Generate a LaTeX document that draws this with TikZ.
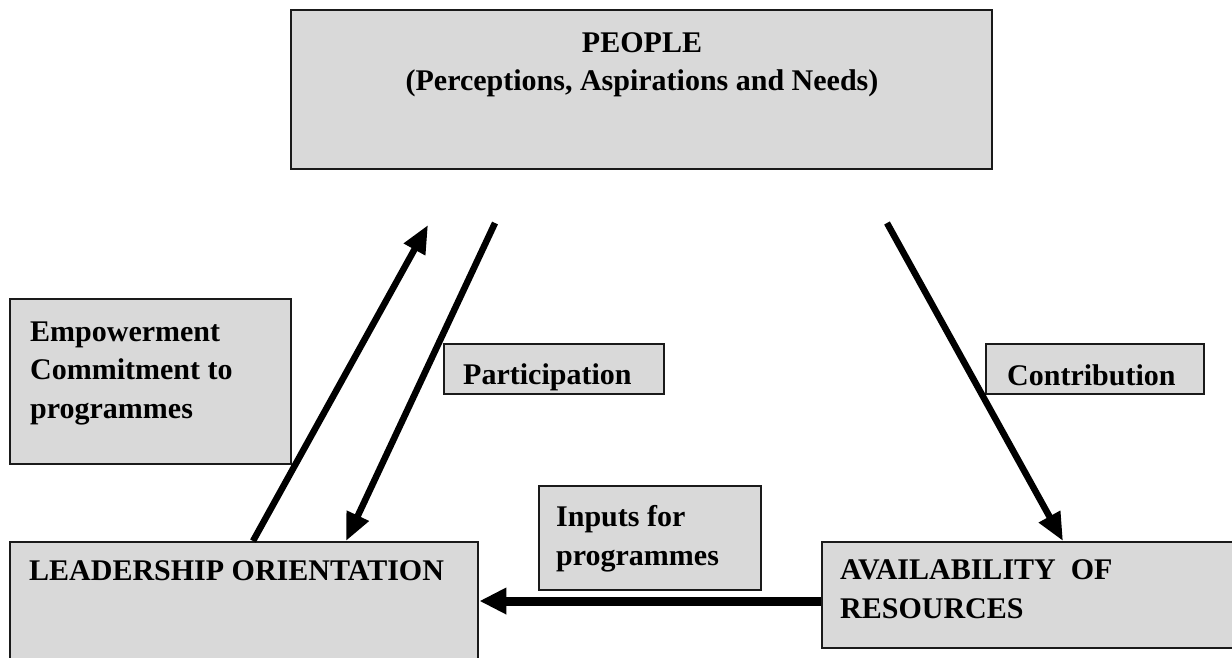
\documentclass[tikz,border=0pt]{standalone}
\usepackage{fontspec}
\setmainfont{Liberation Serif}
\usetikzlibrary{arrows.meta,calc}
\definecolor{boxgray}{HTML}{D9D9D9}
\definecolor{edge}{HTML}{1A1A1A}
\begin{document}
\begin{tikzpicture}[x=1pt,y=-1pt,
  box/.style={draw=edge,line width=2.4pt,fill=boxgray,inner sep=0pt,anchor=north west},
  lbl/.style={font=\fontsize{30}{38.5}\selectfont\bfseries,inner sep=0pt,anchor=base west,align=left},
  link/.style={line width=6.5pt,-{Triangle[length=28pt,width=23pt]}},
  hlink/.style={line width=9pt,-{Triangle[length=27pt,width=25pt]}}]
\useasboundingbox[fill=white] (0,0) rectangle (1232,657);
% boxes
\node[box,minimum width=701pt,minimum height=159pt] (people) at (290,9) {};
\node[box,minimum width=281pt,minimum height=165pt] (empower) at (9,298) {};
\node[box,minimum width=220pt,minimum height=50pt] (partic) at (443,343) {};
\node[box,minimum width=218pt,minimum height=50pt] (contrib) at (985,343) {};
\node[box,minimum width=222pt,minimum height=104pt] (inputs) at (538,485) {};
\node[box,minimum width=468pt,minimum height=130pt] (lead) at (9,541) {};
\node[box,minimum width=430pt,minimum height=106pt] (avail) at (821,541) {};
% texts (multi-line nodes: base anchor is on the last line)
\node[lbl,anchor=base] (tpeople) at (642,52) {PEOPLE};
\node[lbl,anchor=base] (tpeople2) at (642,90) {(Perceptions, Aspirations and Needs)};
\node[lbl] (tempower) at (30,418) {Empowerment\\Commitment to\\programmes};
\node[lbl] (tpartic) at (463,384) {Participation};
\node[lbl] (tcontrib) at (1007,385) {Contribution};
\node[lbl] (tinputs) at (556,565) {Inputs for\\programmes};
\node[lbl] (tlead) at (29,580) {LEADERSHIP ORIENTATION};
\node[lbl] (tavail) at (840,618) {AVAILABILITY\ \ OF\\RESOURCES};
% connector ends
\coordinate (pa) at (428,225);
\coordinate (pb) at (495,223);
\coordinate (pc) at (887,223);
\coordinate (lu) at ($(lead.north west)+(244,0)$);
\coordinate (ld) at ($(lead.north west)+(337,0)$);
\coordinate (ad) at ($(avail.north west)+(242,0)$);
\coordinate (ah) at ($(avail.north west)+(0,60)$);
\coordinate (lh) at ($(lead.north east)+(0,60)$);
% connectors
\draw[link] (lu) -- (pa);
\draw[link] (pb) -- (ld);
\draw[link] (pc) -- (ad);
\draw[hlink] (ah) -- (lh);
\end{tikzpicture}
\end{document}
